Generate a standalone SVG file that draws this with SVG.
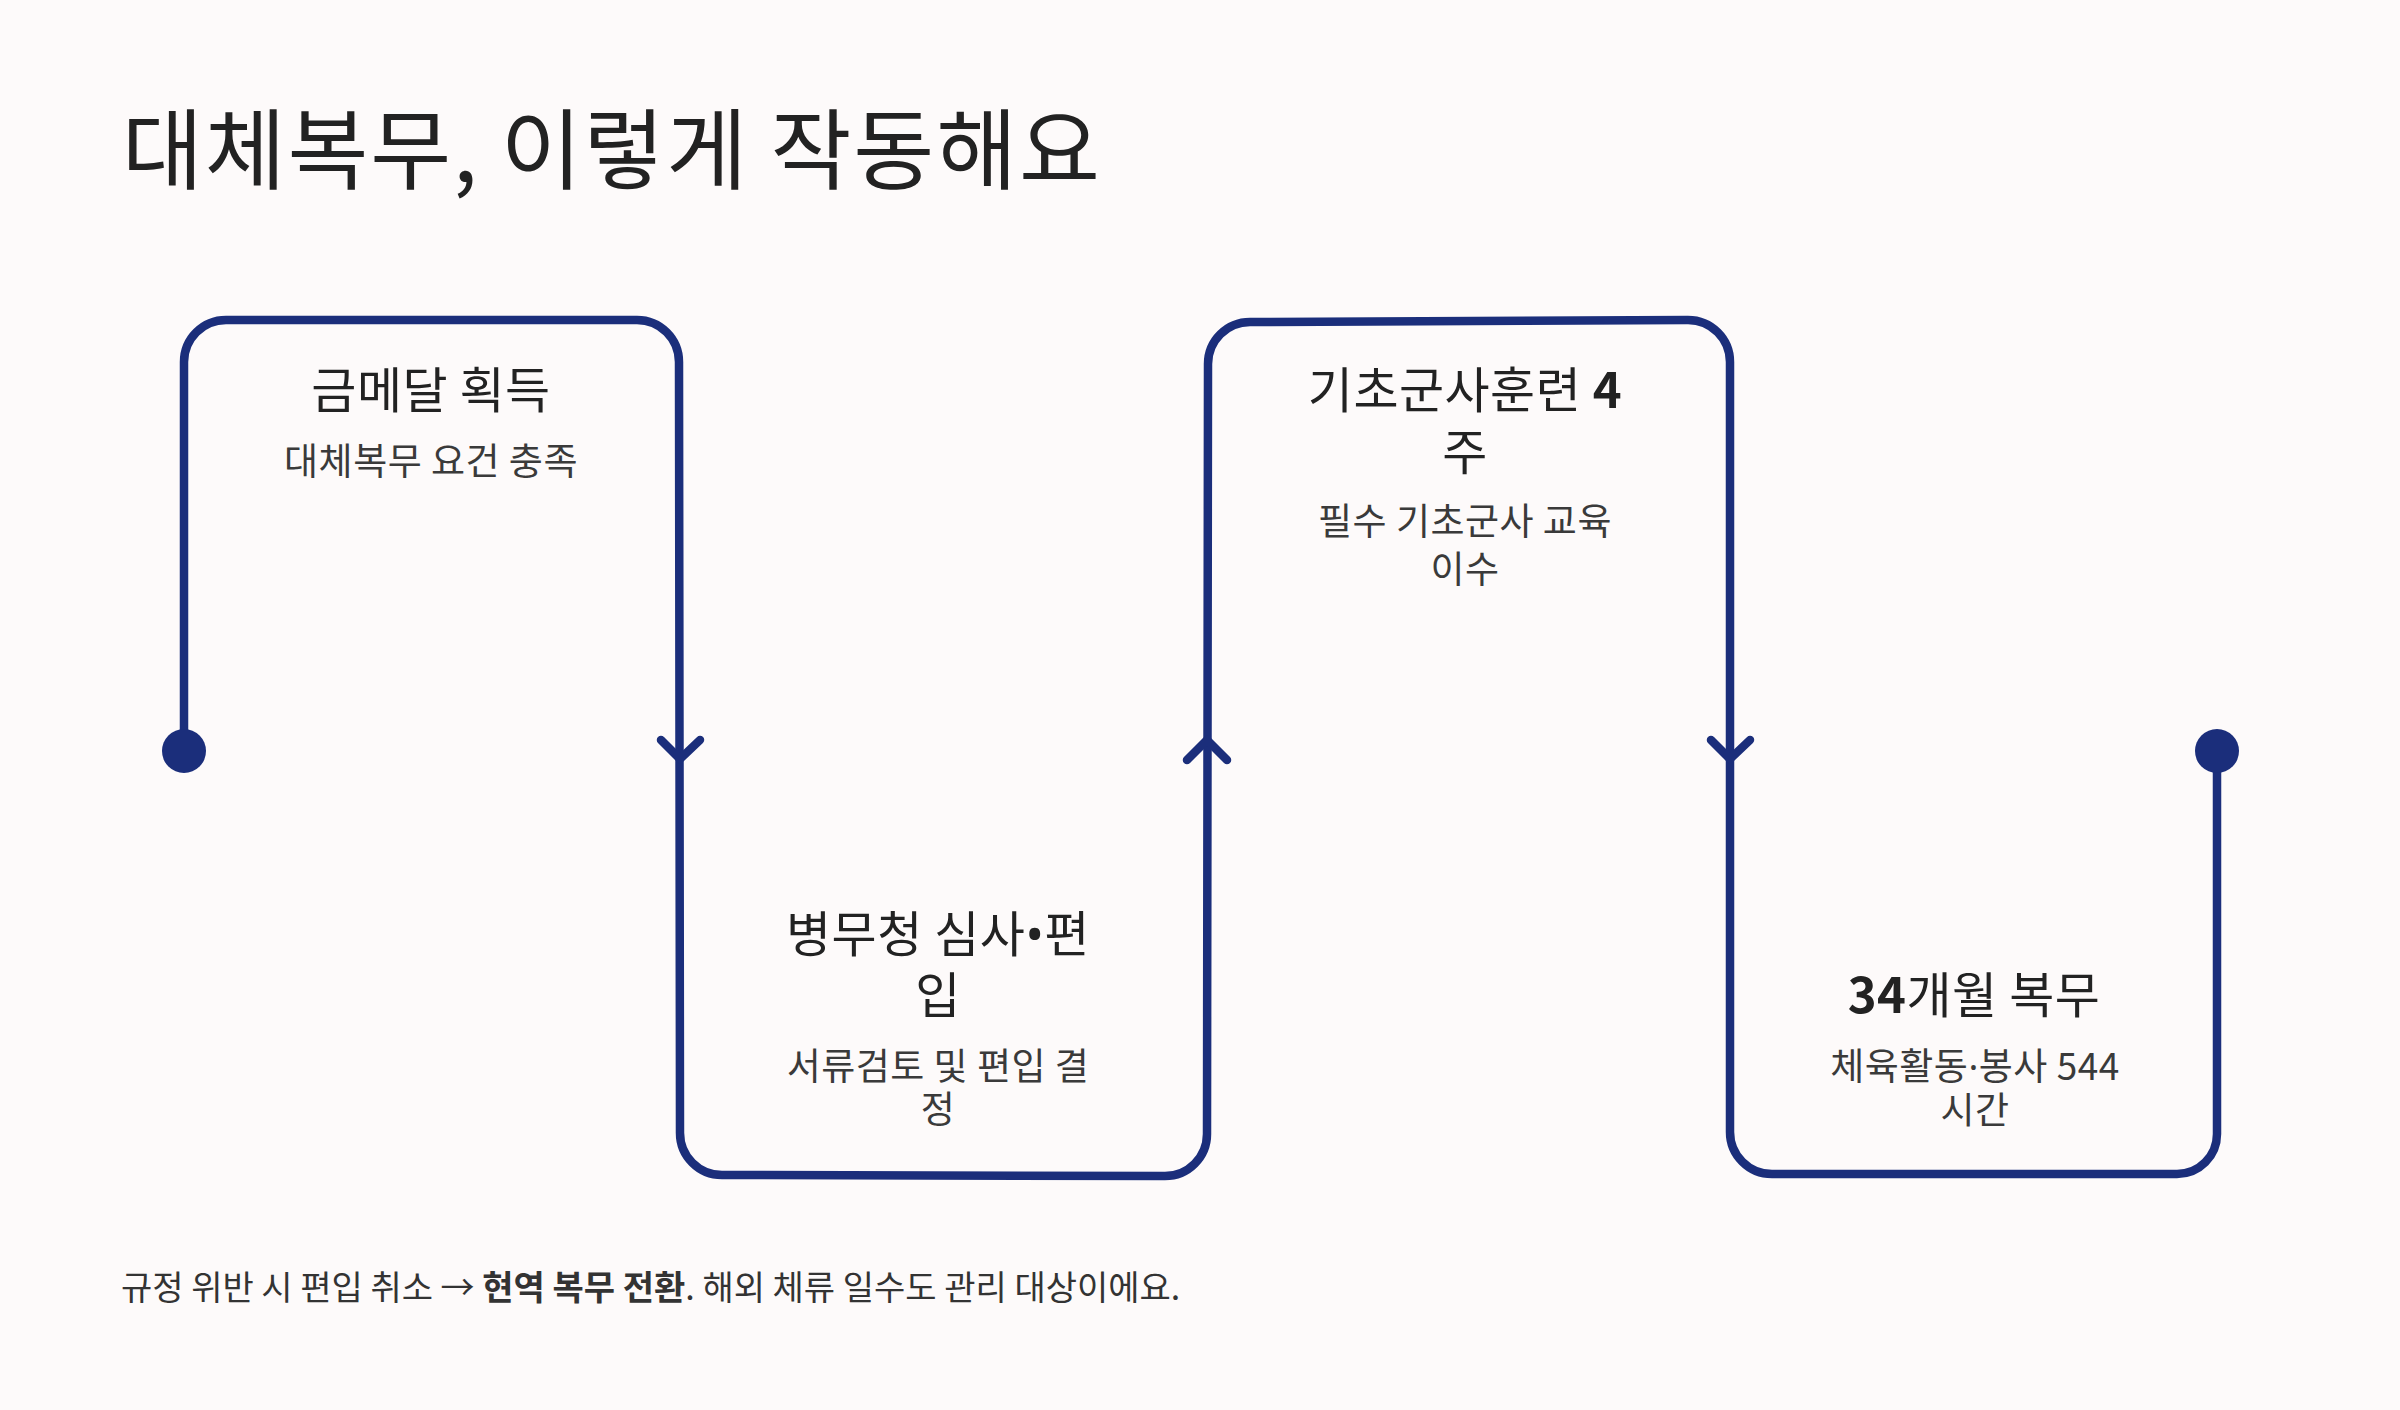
<svg xmlns="http://www.w3.org/2000/svg" width="2400" height="1410" viewBox="0 0 2400 1410">
<style>
text{font-family:"Noto Sans CJK KR","Noto Sans",sans-serif;}
.h1{font-size:88px;fill:#222222;letter-spacing:1.8px;}
.t{font-size:49px;fill:#222222;letter-spacing:0.5px;text-anchor:middle;}
.s{font-size:37px;fill:#3a3a3a;letter-spacing:0.5px;text-anchor:middle;}
.f{font-size:34px;fill:#333333;letter-spacing:0px;}
.b{font-weight:700;}
.lat{font-family:"Noto Sans",sans-serif;}
.line{fill:none;stroke:#1b2e7b;stroke-width:8.5;stroke-linecap:round;stroke-linejoin:round;}
.dot{fill:#1b2e7b;}
</style>
<rect width="2400" height="1410" fill="#fdfafa"/>
<text class="h1" x="122" y="182">대체복무, 이렇게 작동해요</text>
<g id="connectors">
<path class="line" d="M184,751 L184,362 A42,42 0 0 1 226,320 L637,320 A42,42 0 0 1 679,362 L680,1133 A42,42 0 0 0 722,1175 L1165,1176 A42,42 0 0 0 1207,1134 L1208,364 A42,42 0 0 1 1250,322 L1688,320 A42,42 0 0 1 1730,362 L1730,1132 A42,42 0 0 0 1772,1174 L2177,1174 A40,40 0 0 0 2217,1134 L2217,751"/>
<path class="line" d="M661,740 L680,759 L700,740"/>
<path class="line" d="M1187,760 L1207,740 L1227,760"/>
<path class="line" d="M1711,740 L1730,759 L1750,740"/>
<circle class="dot" cx="184" cy="751" r="22"/>
<circle class="dot" cx="2217" cy="751" r="22"/>
</g>
<g id="node-1">
<text class="t" x="431" y="408">금메달 획득</text>
<text class="s" x="431" y="475">대체복무 요건 충족</text>
</g>
<g id="node-2">
<text class="t" x="938" y="952">병무청 심사<tspan class="lat">•</tspan>편</text>
<text class="t" x="938" y="1013">입</text>
<text class="s" x="938" y="1080">서류검토 및 편입 결</text>
<text class="s" x="938" y="1123">정</text>
</g>
<g id="node-3">
<text class="t" x="1465" y="408">기초군사훈련 <tspan class="b">4</tspan></text>
<text class="t" x="1465" y="470">주</text>
<text class="s" x="1465" y="535">필수 기초군사 교육</text>
<text class="s" x="1465" y="583">이수</text>
</g>
<g id="node-4">
<text class="t" x="1974" y="1013"><tspan class="b">34</tspan>개월 복무</text>
<text class="s" x="1975" y="1080">체육활동<tspan class="lat">·</tspan>봉사 544</text>
<text class="s" x="1975" y="1124">시간</text>
</g>
<g id="footnote">
<text class="f" x="121" y="1300">규정 위반 시 편입 취소 → <tspan class="b">현역 복무 전환</tspan>. 해외 체류 일수도 관리 대상이에요.</text>
</g>
</svg>
